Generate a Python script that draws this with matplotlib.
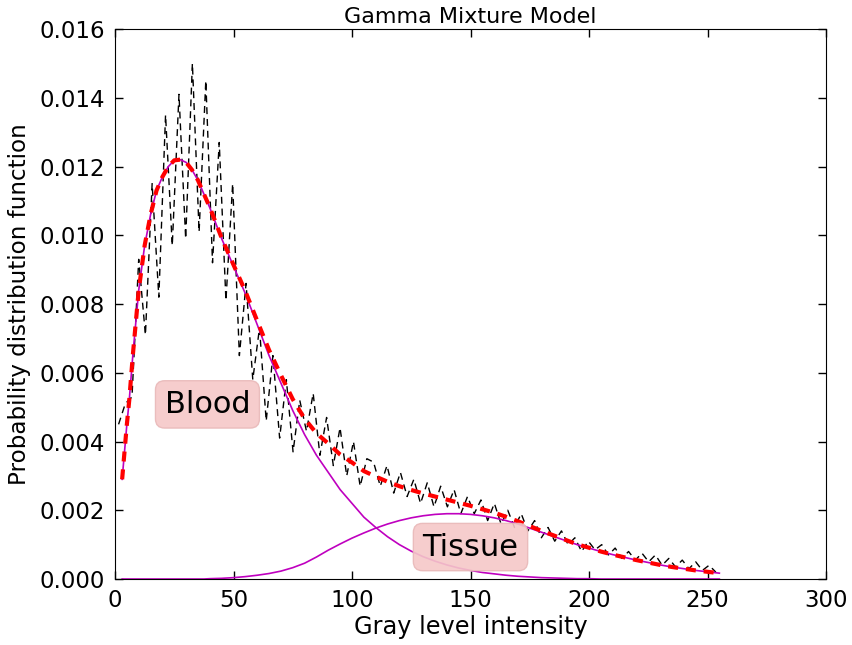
import numpy as np
import matplotlib
matplotlib.use("Agg")
import matplotlib.pyplot as plt
from matplotlib.ticker import FormatStrFormatter

# gray level histogram: 90 bins between gray 1.5 and 253.5
n_bins = 90
hist_vals = [
    0.0045, 0.0051, 0.0053, 0.0093, 0.0071, 0.0115, 0.0082, 0.0135, 0.0097, 0.0141,
    0.0099, 0.0150, 0.0101, 0.0145, 0.0092, 0.0127, 0.0081, 0.0115, 0.0065, 0.0086,
    0.0058, 0.0073, 0.0046, 0.0065, 0.0041, 0.0058, 0.0037, 0.0052, 0.0043, 0.0054,
    0.0036, 0.0047, 0.0033, 0.0044, 0.0030, 0.0040, 0.0027, 0.0035, 0.0034, 0.0027,
    0.0033, 0.0025, 0.0031, 0.0024, 0.0029, 0.0022, 0.0028, 0.0021, 0.0027, 0.0021,
    0.0026, 0.0019, 0.0024, 0.0019, 0.0023, 0.0017, 0.0022, 0.0016, 0.0020, 0.0015,
    0.0019, 0.0014, 0.0017, 0.0012, 0.0015, 0.0011, 0.0014, 0.0010, 0.0012, 0.0008,
    0.0011, 0.00085, 0.0010, 0.0007, 0.0009, 0.0006, 0.0008, 0.00055, 0.00075, 0.0005,
    0.0007, 0.0004, 0.0006, 0.00035, 0.00055, 0.0003, 0.0005, 0.00025, 0.0004, 0.0002,
]

# fitted gamma components
curve_x = [3, 4, 5, 6, 7.5, 10, 12.5, 15, 17.5, 20, 22.5, 25, 27.5, 30, 32.5, 35,
           37.5, 40, 45, 50, 55, 60, 65, 70, 75, 80, 85, 90, 95, 100, 105, 110,
           115, 120, 125, 130, 135, 140, 145, 150, 155, 160, 165, 170, 175, 180,
           185, 190, 195, 200, 205, 210, 215, 220, 225, 230, 235, 240, 245, 250, 255]
blood = [0.0029, 0.0037, 0.0045, 0.0052, 0.0065, 0.0084, 0.0097, 0.0106, 0.0113,
         0.0117, 0.0120, 0.01218, 0.0122, 0.01212, 0.0119, 0.0116, 0.0112, 0.0108,
         0.0099, 0.0091, 0.0083, 0.0074, 0.0065, 0.0057, 0.0049, 0.0042, 0.0036,
         0.0031, 0.0026, 0.0022, 0.0018, 0.0015, 0.00123, 0.0010, 0.00081, 0.00065,
         0.00052, 0.00041, 0.00032, 0.00025, 0.00019, 0.00015, 0.00011, 0.00008,
         0.00006, 0.00004, 0.00003, 0.00002, 0.00001, 0.00001, 0.0, 0.0, 0.0, 0.0,
         0.0, 0.0, 0.0, 0.0, 0.0, 0.0, 0.0]
tissue = [0.0, 0.0, 0.0, 0.0, 0.0, 0.0, 0.0, 0.0, 0.0, 0.0, 0.0, 0.0, 0.0, 0.0,
          0.0, 0.0, 0.0, 0.00001, 0.00002, 0.00004, 0.00007, 0.00011, 0.00016,
          0.00023, 0.00033, 0.00046, 0.00064, 0.00084, 0.00102, 0.00119, 0.00134,
          0.00148, 0.0016, 0.0017, 0.00178, 0.00184, 0.00188, 0.0019, 0.0019,
          0.00188, 0.00184, 0.00178, 0.0017, 0.0016, 0.00148, 0.00136, 0.00124,
          0.00112, 0.0010, 0.0009, 0.0008, 0.00071, 0.00063, 0.00055, 0.00048,
          0.00041, 0.00035, 0.0003, 0.00025, 0.00021, 0.00017]

hist_x = np.linspace(1.5, 253.5, n_bins)
mixture = np.array(blood) + np.array(tissue)

fig = plt.figure(figsize=(8.52, 6.45), dpi=100)
ax = fig.add_axes([0.135, 0.1023, 0.8345, 0.8527])

ax.plot(hist_x, hist_vals, color='k', linestyle='--', dashes=(5, 3.5), linewidth=1)
ax.plot(curve_x, blood, color='m', linewidth=1.2)
ax.plot(curve_x, tissue, color='m', linewidth=1.2)
ax.plot(curve_x, mixture, color='r', linestyle='--', dashes=(2.4, 1.9), linewidth=3)

box = dict(boxstyle='round', facecolor='#f5c8c8', edgecolor='#e9b9b9', alpha=0.9)
ax.text(39, 0.00508, 'Blood', fontsize=22, ha='center', va='center', bbox=box)
ax.text(150, 0.00093, 'Tissue', fontsize=22, ha='center', va='center', bbox=box)

ax.set_xlim(0, 300)
ax.set_ylim(0, 0.016)
ax.set_xticks(np.arange(0, 301, 50))
ax.set_yticks(np.arange(0, 0.0161, 0.002))
ax.yaxis.set_major_formatter(FormatStrFormatter('%.3f'))
ax.tick_params(direction='in', top=True, right=True, length=6, width=1,
               labelsize=16.5, pad=7)

ax.set_title('Gamma Mixture Model', fontsize=16, pad=4)
ax.set_xlabel('Gray level intensity', fontsize=17.3, labelpad=2)
ax.set_ylabel('Probability distribution function', fontsize=16.6, labelpad=6)

fig.savefig('out.png', dpi=100)
